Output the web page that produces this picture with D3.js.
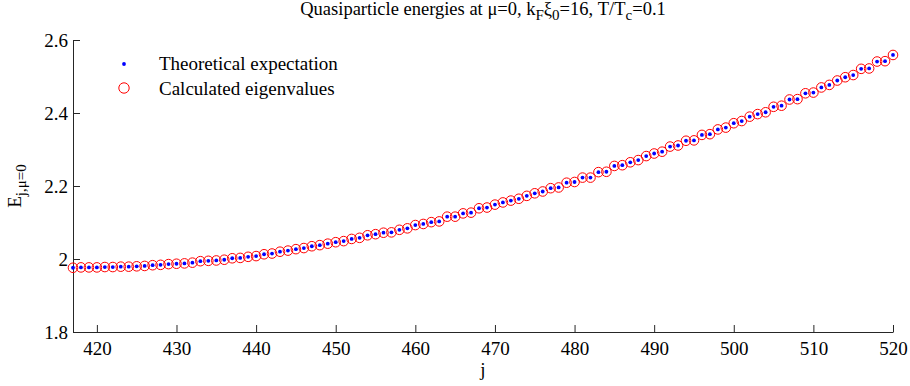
<!DOCTYPE html>
<html>
<head>
<meta charset="utf-8">
<script src="https://cdn.jsdelivr.net/npm/d3@7"></script>
<style>
  body { margin: 0; background: #fff; }
  svg { display: block; }
  svg text { font-family: "Liberation Serif", "Times New Roman", serif; }
</style>
</head>
<body>
<div class="chart"></div>
<script>
//! DATA
const J_START = 417;
const J_END = 520;
const X_TICKS = [420, 430, 440, 450, 460, 470, 480, 490, 500, 510, 520];
const Y_TICKS = [1.8, 2, 2.2, 2.4, 2.6];

// theoretical quasiparticle energies, j = 417 ... 520
const theoretical = [
  1.976, 1.977, 1.977, 1.977, 1.978, 1.978, 1.979, 1.979, 1.980, 1.981,
  1.983, 1.984, 1.986, 1.987, 1.988, 1.990, 1.994, 1.995, 1.996, 1.998,
  2.002, 2.003, 2.006, 2.008, 2.013, 2.015, 2.020, 2.023, 2.027, 2.030,
  2.035, 2.038, 2.042, 2.046, 2.049, 2.055, 2.058, 2.065, 2.068, 2.072,
  2.073, 2.080, 2.084, 2.093, 2.096, 2.101, 2.103, 2.116, 2.116, 2.125,
  2.127, 2.139, 2.141, 2.149, 2.155, 2.160, 2.165, 2.173, 2.180, 2.185,
  2.194, 2.196, 2.209, 2.211, 2.223, 2.223, 2.238, 2.239, 2.255, 2.257,
  2.265, 2.271, 2.282, 2.289, 2.294, 2.308, 2.311, 2.324, 2.325, 2.340,
  2.342, 2.355, 2.360, 2.372, 2.378, 2.390, 2.397, 2.402, 2.417, 2.420,
  2.437, 2.438, 2.454, 2.456, 2.470, 2.477, 2.489, 2.498, 2.504, 2.521,
  2.522, 2.541, 2.542, 2.559
];
// calculated eigenvalues fall on top of the expectation
const calculated = [
  1.976, 1.977, 1.977, 1.977, 1.978, 1.978, 1.979, 1.979, 1.980, 1.981,
  1.983, 1.984, 1.986, 1.987, 1.988, 1.990, 1.994, 1.995, 1.996, 1.998,
  2.002, 2.003, 2.006, 2.008, 2.013, 2.015, 2.020, 2.023, 2.027, 2.030,
  2.035, 2.038, 2.042, 2.046, 2.049, 2.055, 2.058, 2.065, 2.068, 2.072,
  2.073, 2.080, 2.084, 2.093, 2.096, 2.101, 2.103, 2.116, 2.116, 2.125,
  2.127, 2.139, 2.141, 2.149, 2.155, 2.160, 2.165, 2.173, 2.180, 2.185,
  2.194, 2.196, 2.209, 2.211, 2.223, 2.223, 2.238, 2.239, 2.255, 2.257,
  2.265, 2.271, 2.282, 2.289, 2.294, 2.308, 2.311, 2.324, 2.325, 2.340,
  2.342, 2.355, 2.360, 2.372, 2.378, 2.390, 2.397, 2.402, 2.417, 2.420,
  2.437, 2.438, 2.454, 2.456, 2.470, 2.477, 2.489, 2.498, 2.504, 2.521,
  2.522, 2.541, 2.542, 2.559
];

//! CONSTS
const WIDTH = 910;
const HEIGHT = 386;
const FONT = '"Liberation Serif", "Times New Roman", serif';
const FONT_SIZE = 19;
const margin = { top: 40, right: 17, bottom: 54, left: 73 };

const svg = d3.select('.chart')
  .append('svg')
  .attr('width', WIDTH)
  .attr('height', HEIGHT);

const x = d3.scaleLinear()
  .domain([J_START, J_END])
  .range([margin.left, WIDTH - margin.right]);

const y = d3.scaleLinear()
  .domain([1.8, 2.6])
  .range([HEIGHT - margin.bottom, margin.top]);

// matlab look: serif labels, dark strokes
const styleAxis = g => {
  g.attr('font-family', null).attr('font-size', null);
  g.selectAll('path, line').attr('stroke', '#262626');
  g.selectAll('text')
    .attr('fill', '#000')
    .style('font-family', FONT)
    .style('font-size', `${FONT_SIZE}px`);
};

//! AXES (inward ticks, box off)
svg.append('g')
  .attr('transform', `translate(0,${HEIGHT - margin.bottom})`)
  .call(d3.axisBottom(x).tickValues(X_TICKS).tickSizeInner(-7).tickSizeOuter(0).tickPadding(10))
  .call(styleAxis);

svg.append('g')
  .attr('transform', `translate(${margin.left},0)`)
  .call(d3.axisLeft(y).tickValues(Y_TICKS).tickSizeInner(-7).tickSizeOuter(0).tickPadding(5)
    .tickFormat(d => `${+d.toFixed(1)}`))
  .call(styleAxis);

//! MARKS
const js = d3.range(J_START, J_END + 1);

svg.append('g')
  .selectAll('circle')
  .data(calculated)
  .join('circle')
  .attr('cx', (d, i) => x(js[i]))
  .attr('cy', d => y(d))
  .attr('r', 4.8)
  .attr('fill', 'none')
  .attr('stroke', '#ff0000')
  .attr('stroke-width', 1);

svg.append('g')
  .selectAll('circle')
  .data(theoretical)
  .join('circle')
  .attr('cx', (d, i) => x(js[i]))
  .attr('cy', d => y(d))
  .attr('r', 1.9)
  .attr('fill', '#0000ff');

//! TITLE
const title = svg.append('text')
  .attr('x', (margin.left + WIDTH - margin.right) / 2)
  .attr('y', 15)
  .attr('text-anchor', 'middle')
  .style('font-size', '18.5px');
title.append('tspan').text('Quasiparticle energies at μ=0, k');
title.append('tspan').attr('baseline-shift', '-5').style('font-size', '15px').text('F');
title.append('tspan').text('ξ');
title.append('tspan').attr('baseline-shift', '-5').style('font-size', '15px').text('0');
title.append('tspan').text('=16, T/T');
title.append('tspan').attr('baseline-shift', '-5').style('font-size', '15px').text('c');
title.append('tspan').text('=0.1');

//! AXIS LABELS
svg.append('text')
  .attr('x', (margin.left + WIDTH - margin.right) / 2)
  .attr('y', 376)
  .attr('text-anchor', 'middle')
  .style('font-size', `${FONT_SIZE}px`)
  .text('j');

const ylab = svg.append('text')
  .attr('transform', `translate(21,${y(2.2)}) rotate(-90)`)
  .attr('text-anchor', 'middle')
  .style('font-size', `${FONT_SIZE}px`);
ylab.append('tspan').text('E');
ylab.append('tspan').attr('baseline-shift', '-5').style('font-size', '15px').text('j,μ=0');

//! LEGEND
const legend = svg.append('g');
legend.append('circle')
  .attr('cx', 124).attr('cy', 64).attr('r', 1.9).attr('fill', '#0000ff');
legend.append('text')
  .attr('x', 159).attr('y', 70).style('font-size', `${FONT_SIZE}px`)
  .text('Theoretical expectation');
legend.append('circle')
  .attr('cx', 124).attr('cy', 88).attr('r', 5.2)
  .attr('fill', 'none').attr('stroke', '#ff0000').attr('stroke-width', 1);
legend.append('text')
  .attr('x', 159).attr('y', 95).style('font-size', `${FONT_SIZE}px`)
  .text('Calculated eigenvalues');
</script>
</body>
</html>
